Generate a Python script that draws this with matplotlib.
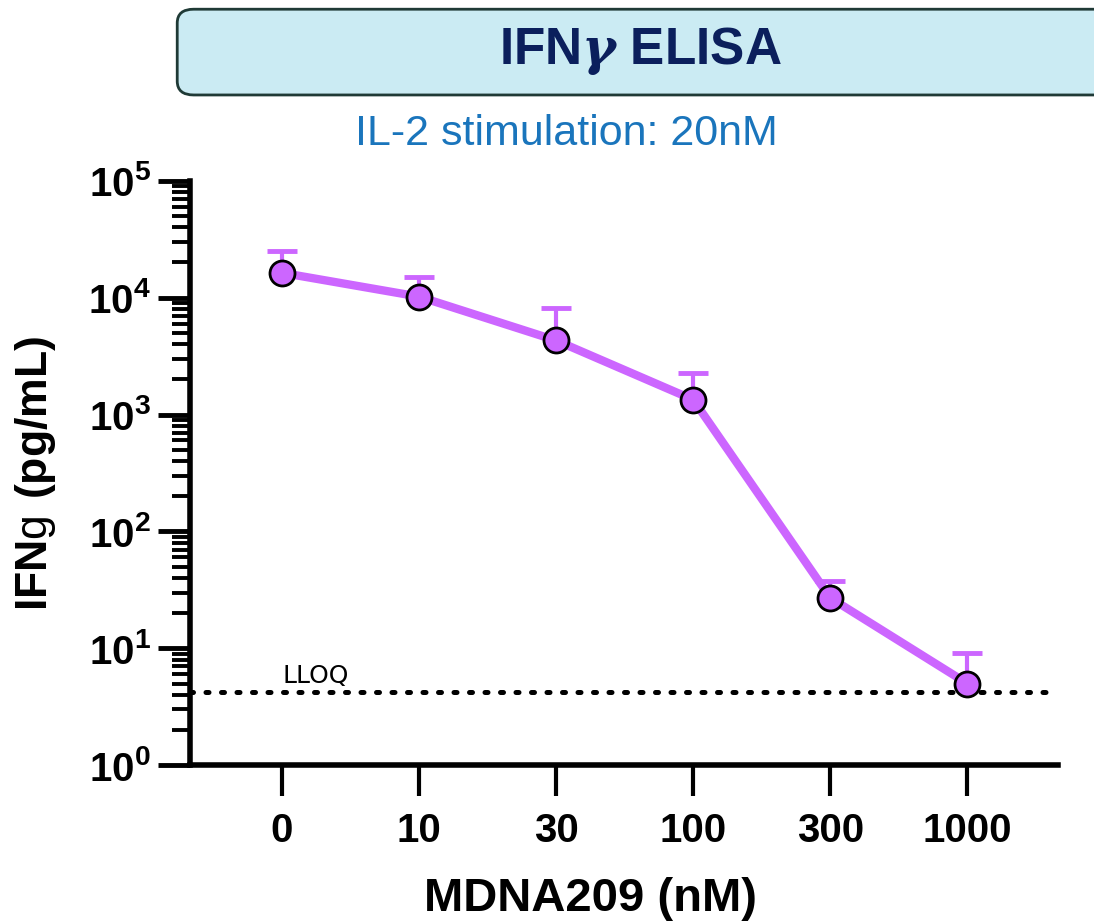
import numpy as np
import matplotlib
matplotlib.use("Agg")
import matplotlib.pyplot as plt
from matplotlib import font_manager
from matplotlib.patches import FancyBboxPatch
from matplotlib.ticker import LogLocator, FuncFormatter, NullFormatter

# data
doses = ["0", "10", "30", "100", "300", "1000"]
ifng_mean = [16300, 10200, 4300, 1340, 27, 5.0]
ifng_upper = [25000, 15000, 8100, 2280, 38, 9.1]
lloq = 4.2

names = {f.name for f in font_manager.fontManager.ttflist}
narrow = "Liberation Sans Narrow" if "Liberation Sans Narrow" in names else "Liberation Sans"

plt.rcParams["mathtext.fontset"] = "custom"
plt.rcParams["mathtext.rm"] = "Liberation Sans"
plt.rcParams["mathtext.bf"] = "Liberation Sans:bold"
plt.rcParams["mathtext.it"] = "DejaVu Serif:italic:bold"

purple = "#CC66FF"

fig = plt.figure(figsize=(10.94, 9.22), dpi=100)
ax = fig.add_axes([0.1737, 0.170, 0.7933, 0.634])

x = np.arange(len(doses))
mean = np.array(ifng_mean)
upper = np.array(ifng_upper)
# upper-only error bars
ax.vlines(x, mean, upper, color=purple, lw=3, zorder=2)
ax.plot(x, upper, ls="none", marker="_", ms=21, mew=3.5, color=purple, zorder=2)
ax.plot(x, mean, color=purple, lw=6, marker="o", ms=18, mfc=purple,
        mec="black", mew=2, zorder=3, solid_capstyle="round")

ax.axhline(lloq, color="black", lw=3.6, linestyle=(0, (0.6, 2.5)),
           dash_capstyle="round", zorder=1)
ax.text(0.005, lloq * 1.08, "LLOQ", fontsize=18, family="DejaVu Sans",
        va="bottom", ha="left")

ax.set_yscale("log")
ax.set_ylim(1, 1e5)
ax.set_xlim(-0.67, 5.66)
ax.yaxis.set_major_locator(LogLocator(base=10, numticks=10))
ax.yaxis.set_minor_locator(LogLocator(base=10, subs=np.arange(2, 10), numticks=20))
ax.yaxis.set_major_formatter(FuncFormatter(lambda v, p: r"$\mathbf{10^{%d}}$" % round(np.log10(v))))
ax.yaxis.set_minor_formatter(NullFormatter())
ax.tick_params(axis="y", which="major", length=23, width=3.5, labelsize=29, pad=5)
ax.tick_params(axis="y", which="minor", length=13, width=2.8)

ax.set_xticks(x)
ax.set_xticklabels(doses, fontsize=29, fontweight="bold", family=narrow)
ax.tick_params(axis="x", length=22, width=3, pad=12)

for s in ["top", "right"]:
    ax.spines[s].set_visible(False)
for s in ["left", "bottom"]:
    ax.spines[s].set_linewidth(4)

ax.set_xlabel("MDNA209 (nM)", fontsize=34, fontweight="bold", family=narrow)
ax.xaxis.set_label_coords((591 - 190) / 868, -0.192)
ax.set_ylabel(r"$\mathbf{IFN}\mathrm{g}\ \mathbf{(pg/mL)}$", fontsize=32)
ax.yaxis.set_label_coords(-0.152, 0.5)

# header box
box = FancyBboxPatch((0.162, 0.897), 0.9, 0.093, boxstyle="round,pad=0,rounding_size=0.015",
                     transform=fig.transFigure, facecolor="#CBEBF3", edgecolor="#1F3A36",
                     lw=2, clip_on=False)
fig.patches.append(box)
fig.text(0.585, 0.945, r"IFN$\gamma$ ELISA", fontsize=37, fontweight="bold",
         color="#0B1F5C", ha="center", va="center", family=narrow)
fig.text(0.518, 0.855, "IL-2 stimulation: 20nM", fontsize=31, color="#1A75BC",
         ha="center", va="center", family=narrow)

fig.savefig("out.png", dpi=100)
